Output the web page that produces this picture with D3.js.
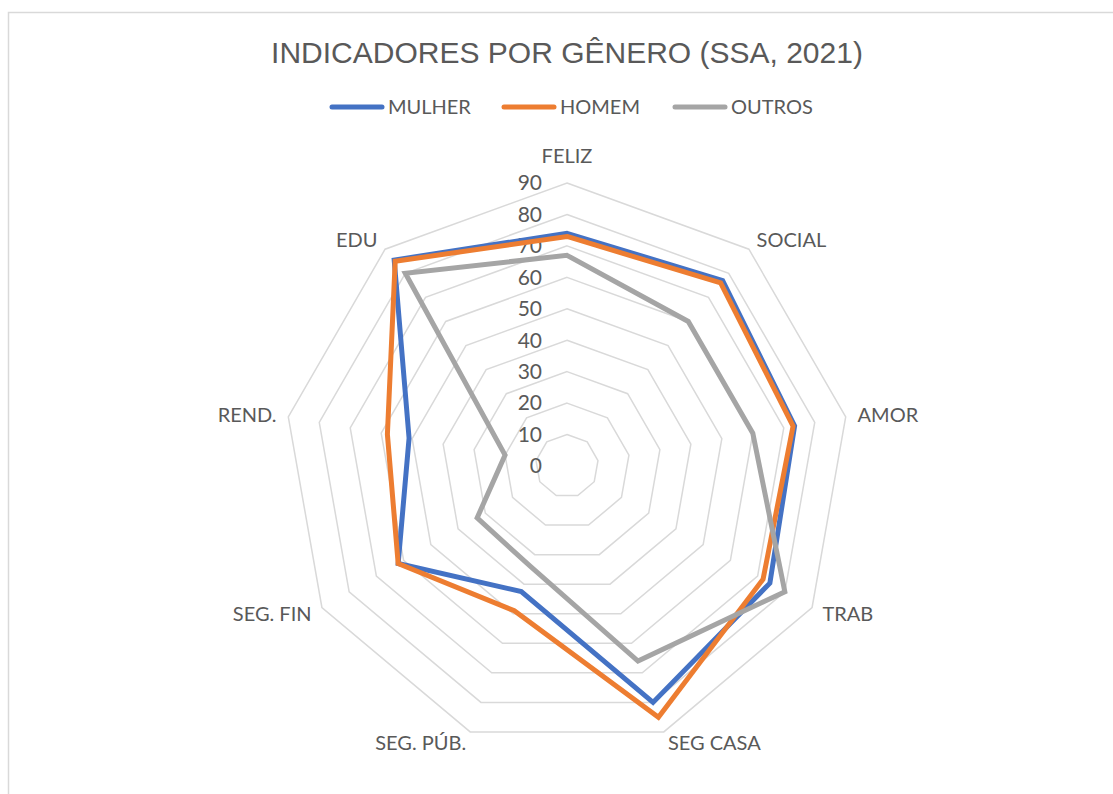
<!DOCTYPE html>
<html>
<head>
<meta charset="utf-8">
<script src="https://cdn.jsdelivr.net/npm/d3@7"></script>
<style>
  body { margin: 0; background: #fff; }
  svg { display: block; }
</style>
</head>
<body>
<svg id="chart" width="1113" height="794"></svg>
<script>
// data
let categories = ["FELIZ", "SOCIAL", "AMOR", "TRAB", "SEG CASA", "SEG. PÚB.", "SEG. FIN", "REND.", "EDU"];
let mulher = [74, 77, 73.5, 74.5, 80, 42.5, 62, 51, 85.5];
let homem  = [73, 76, 73, 72, 85, 49, 62, 58, 85];
let outros = [67, 60, 60, 80, 66, 34, 33, 20, 80];
let seriesNames = ["MULHER", "HOMEM", "OUTROS"];
let seriesColors = ["#4472C4", "#ED7D31", "#A5A5A5"];
let ticks = [0, 10, 20, 30, 40, 50, 60, 70, 80, 90];

let svg = d3.select("#chart");
let cx = 567, cy = 466, rMax = 283;
let textColor = "#595959";

// chart area border
svg.append("rect")
  .attr("x", 8.5).attr("y", 12.5)
  .attr("width", 1120).attr("height", 800)
  .attr("fill", "none")
  .attr("stroke", "#d9d9d9")
  .attr("stroke-width", 1.5);

svg.append("text")
  .attr("x", cx).attr("y", 63)
  .attr("text-anchor", "middle")
  .style("font-family", "'Liberation Sans', Arial, sans-serif")
  .style("font-size", "30px")
  .attr("fill", textColor)
  .text("INDICADORES POR GÊNERO (SSA, 2021)");

let rScale = d3.scaleLinear().domain([0, 90]).range([0, rMax]);
let angle = d3.scaleLinear().domain([0, categories.length]).range([0, 2 * Math.PI]);

let plot = svg.append("g").attr("transform", "translate(" + cx + "," + cy + ")");

// grid rings
let ring = d3.lineRadial()
  .angle(function(d, i) { return angle(i); })
  .radius(function(d) { return rScale(d); })
  .curve(d3.curveLinearClosed);

plot.selectAll("path.grid")
  .data(ticks.filter(function(t) { return t > 0; }))
  .enter().append("path")
  .attr("class", "grid")
  .attr("d", function(t) { return ring(categories.map(function() { return t; })); })
  .attr("fill", "none")
  .attr("stroke", "#d9d9d9")
  .attr("stroke-width", 1.5);

// tick labels
plot.selectAll("text.tick")
  .data(ticks)
  .enter().append("text")
  .attr("class", "tick")
  .attr("x", -25)
  .attr("y", function(t) { return -rScale(t); })
  .attr("dy", "0.35em")
  .attr("text-anchor", "end")
  .style("font-family", "Lato, 'Open Sans', sans-serif")
  .style("font-size", "21px")
  .attr("fill", textColor)
  .text(function(t) { return t; });

// category labels
plot.selectAll("text.cat")
  .data(categories)
  .enter().append("text")
  .attr("class", "cat")
  .each(function(d, i) {
    let a = angle(i);
    let s = Math.sin(a), c = Math.cos(a);
    let r = rMax + 12;
    let el = d3.select(this);
    let anchor = Math.abs(s) < 0.1 ? "middle" : (s > 0 ? "start" : "end");
    let x = r * s, y = -r * c;
    if (Math.abs(s) < 0.1) { y = -(rMax + 20); }
    el.attr("x", x).attr("y", y)
      .attr("dy", Math.abs(s) < 0.1 ? "0" : "0.35em")
      .attr("text-anchor", anchor);
  })
  .style("font-family", "Lato, 'Open Sans', sans-serif")
  .style("font-size", "20px")
  .attr("fill", textColor)
  .text(function(d) { return d; });

// series
let line = d3.lineRadial()
  .angle(function(d, i) { return angle(i); })
  .radius(function(d) { return rScale(d); })
  .curve(d3.curveLinearClosed);

let allSeries = [mulher, homem, outros];
plot.selectAll("path.series")
  .data(allSeries)
  .enter().append("path")
  .attr("class", "series")
  .attr("d", function(d) { return line(d); })
  .attr("fill", "none")
  .attr("stroke", function(d, i) { return seriesColors[i]; })
  .attr("stroke-width", 5)
  .attr("stroke-linejoin", "miter");

// legend
let legendX = [332, 504, 675];
let legend = svg.append("g");
seriesNames.forEach(function(name, i) {
  legend.append("line")
    .attr("x1", legendX[i]).attr("x2", legendX[i] + 50)
    .attr("y1", 107).attr("y2", 107)
    .attr("stroke", seriesColors[i])
    .attr("stroke-width", 5)
    .attr("stroke-linecap", "round");
  legend.append("text")
    .attr("x", legendX[i] + 56).attr("y", 107)
    .attr("dy", "0.35em")
    .style("font-family", "Lato, 'Open Sans', sans-serif")
    .style("font-size", "20px")
    .attr("fill", textColor)
    .text(name);
});
</script>
</body>
</html>
